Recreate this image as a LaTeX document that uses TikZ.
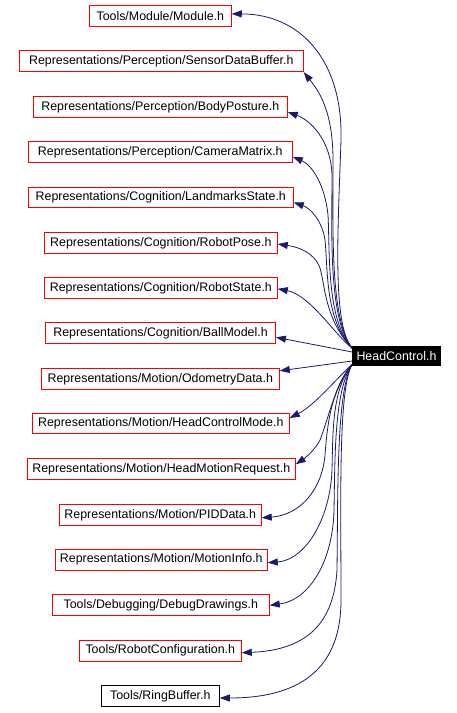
\documentclass[tikz,border=0pt]{standalone}
\usepackage{fontspec}
\setmainfont{Liberation Sans}
\usetikzlibrary{arrows.meta}
\definecolor{edgeblue}{HTML}{191970}
\begin{document}
\begin{tikzpicture}[x=1pt,y=-1pt,
  box/.style={draw=red, line width=0.9pt, minimum height=20.8pt, inner sep=0pt,
    font=\fontsize{12.4}{14}\selectfont, text=black},
  blackbox/.style={box, draw=black},
  hcbox/.style={fill=black, text=white, minimum width=88.4pt, minimum height=19.4pt,
    inner sep=0pt, font=\fontsize{12.4}{14}\selectfont},
  edge/.style={draw=edgeblue, line width=0.8pt, -{Triangle[length=10pt,width=7pt]}}]
\useasboundingbox (0,0) rectangle (457,713);
\fill[white] (0,0) rectangle (457,713);

\node[box, minimum width=142pt] (m1) at (160.3,15.9) {Tools/Module/Module.h};
\node[box, minimum width=284pt] (m2) at (161.3,61.3) {Representations/Perception/SensorDataBuffer.h};
\node[box, minimum width=254pt] (m3) at (160.3,107) {Representations/Perception/BodyPosture.h};
\node[box, minimum width=264pt] (m4) at (160.3,151.8) {Representations/Perception/CameraMatrix.h};
\node[box, minimum width=265pt] (m5) at (160.8,197.5) {Representations/Cognition/LandmarksState.h};
\node[box, minimum width=233pt] (m6) at (160.8,243) {Representations/Cognition/RobotPose.h};
\node[box, minimum width=233pt] (m7) at (160.8,287.8) {Representations/Cognition/RobotState.h};
\node[box, minimum width=230pt] (m8) at (160.5,333.3) {Representations/Cognition/BallModel.h};
\node[box, minimum width=238pt] (m9) at (160.3,378.8) {Representations/Motion/OdometryData.h};
\node[box, minimum width=257pt] (m10) at (160.8,423.5) {Representations/Motion/HeadControlMode.h};
\node[box, minimum width=268pt] (m11) at (161.3,469.3) {Representations/Motion/HeadMotionRequest.h};
\node[box, minimum width=202pt] (m12) at (160.3,514.8) {Representations/Motion/PIDData.h};
\node[box, minimum width=212pt] (m13) at (161.3,559.7) {Representations/Motion/MotionInfo.h};
\node[box, minimum width=217pt] (m14) at (160.8,605.3) {Tools/Debugging/DebugDrawings.h};
\node[box, minimum width=162pt] (m15) at (160.3,650.7) {Tools/RobotConfiguration.h};
\node[blackbox, minimum width=118pt] (m16) at (160.3,696) {Tools/RingBuffer.h};

\node[hcbox] (hc) at (396.5,356) {HeadControl.h};

% upper edges
\draw[edge] ([yshift=-2pt]hc.north west) .. controls (332,325) and (338,230) .. (341,140)
  .. controls (343,60) and (300,14) .. ([yshift=2pt]m1.east);
\draw[edge] ([yshift=-2pt]hc.north west) .. controls (330,320) and (333,230) .. (333,160)
  .. controls (333,110) and (318,90) .. (m2.south east);
\draw[edge] ([yshift=-2pt]hc.north west) .. controls (328,320) and (332,230) .. (332,175)
  .. controls (331,140) and (310,120) .. ([yshift=-5pt]m3.east);
\draw[edge] ([yshift=-2pt]hc.north west) .. controls (326,320) and (330,250) .. (328,215)
  .. controls (325,185) and (312,165) .. ([yshift=-5pt]m4.east);
\draw[edge] ([yshift=-2pt]hc.north west) .. controls (325,320) and (328,270) .. (325,240)
  .. controls (322,220) and (310,208) .. ([yshift=-5pt]m5.east);
\draw[edge] ([yshift=-2pt]hc.north west) .. controls (325,320) and (325,285) .. (320,268)
  .. controls (314,252) and (298,247) .. ([yshift=-1pt]m6.east);
\draw[edge] ([yshift=-2pt]hc.north west) .. controls (335,335) and (310,295) .. ([yshift=-1pt]m7.east);
% straight edges
\draw[edge] ([yshift=4pt]hc.west) -- ([yshift=-4pt]m8.east);
\draw[edge] ([yshift=-5pt]hc.west) -- ([yshift=8pt]m9.east);
% lower edges
\draw[edge] ([yshift=1.5pt]hc.south west) .. controls (335,380) and (315,405) .. ([yshift=5.5pt]m10.east);
\draw[edge] ([yshift=1.5pt]hc.south west) .. controls (335,385) and (328,420) .. (320,440)
  .. controls (315,450) and (305,458) .. ([yshift=5pt]m11.east);
\draw[edge] ([yshift=1.5pt]hc.south west) .. controls (330,390) and (327,430) .. (325,455)
  .. controls (322,490) and (300,515) .. ([yshift=-3pt]m12.east);
\draw[edge] ([yshift=1.5pt]hc.south west) .. controls (332,390) and (333,430) .. (332,470)
  .. controls (330,520) and (305,560) .. ([yshift=-3pt]m13.east);
\draw[edge] ([yshift=1.5pt]hc.south west) .. controls (334,390) and (335,460) .. (334,510)
  .. controls (333,560) and (310,600) .. (m14.east);
\draw[edge] ([yshift=1.5pt]hc.south west) .. controls (336,390) and (338,500) .. (337,570)
  .. controls (334,620) and (310,650) .. ([yshift=-2pt]m15.east);
\draw[edge] ([yshift=1.5pt]hc.south west) .. controls (338,390) and (341,500) .. (341,600)
  .. controls (341,660) and (310,698) .. ([yshift=-2pt]m16.east);
\end{tikzpicture}
\end{document}
